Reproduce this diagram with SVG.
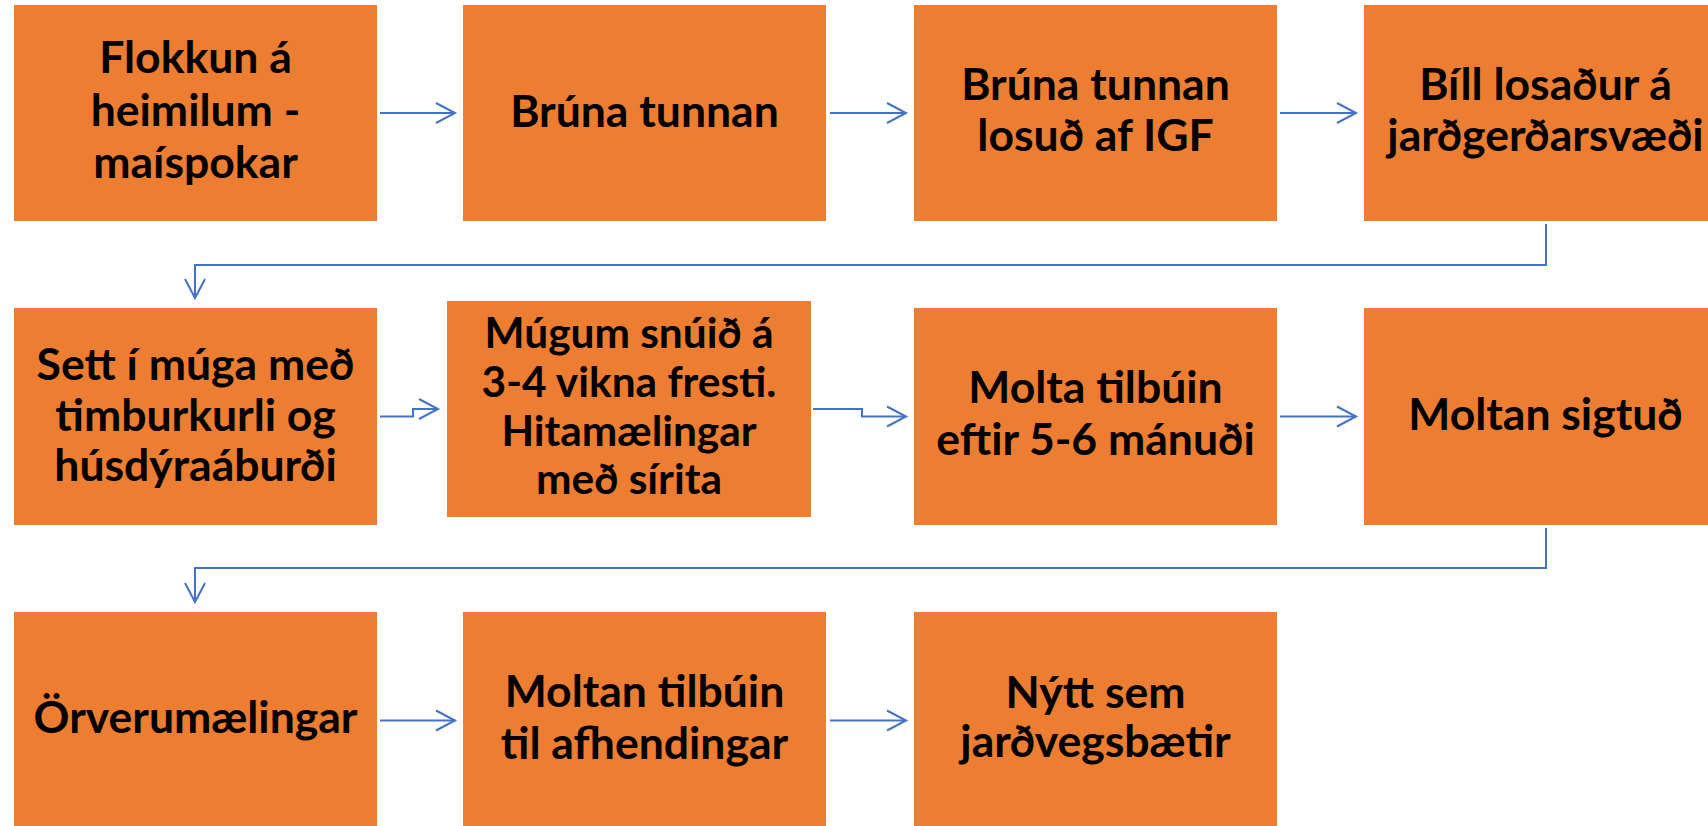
<svg xmlns="http://www.w3.org/2000/svg" width="1708" height="826" viewBox="0 0 1708 826">
<defs>
<style>
.box{fill:#ED7D31;}
.t{font-family:Lato,"Liberation Sans",sans-serif;font-weight:bold;font-size:44.5px;fill:#000;text-anchor:middle;}
.t2{font-family:Lato,"Liberation Sans",sans-serif;font-weight:bold;font-size:42.4px;fill:#000;text-anchor:middle;}
.c{fill:none;stroke:#4472C4;stroke-width:2;marker-end:url(#ah);}
</style>
<marker id="ah" markerUnits="userSpaceOnUse" markerWidth="24" markerHeight="24" refX="20" refY="11" orient="auto" overflow="visible">
<path d="M1 1 L20 11 L1 21" fill="none" stroke="#4472C4" stroke-width="2"/>
</marker>
</defs>
<rect width="1708" height="826" fill="#fff"/>
<g id="connectors">
<path class="c" d="M380 113 H455"/>
<path class="c" d="M830 113 H906"/>
<path class="c" d="M1280 113 H1356"/>
<path class="c" d="M1546 224 V265 H195 V298"/>
<path class="c" d="M380 416.5 H413 V409 H438"/>
<path class="c" d="M813 409 H862 V416.5 H906"/>
<path class="c" d="M1280 416.5 H1356"/>
<path class="c" d="M1546 528 V568 H195 V602"/>
<path class="c" d="M380 720.5 H455"/>
<path class="c" d="M830 720.5 H906"/>
</g>
<g id="n1"><rect class="box" x="14" y="5" width="363" height="216"/>
<text class="t" x="195.5" y="73">Flokkun á</text><text class="t" x="195.5" y="126">heimilum -</text><text class="t" x="195.5" y="178">maíspokar</text></g>
<g id="n2"><rect class="box" x="463" y="5" width="363" height="216"/>
<text class="t" x="644.5" y="127">Brúna tunnan</text></g>
<g id="n3"><rect class="box" x="914" y="5" width="363" height="216"/>
<text class="t" x="1095.5" y="100">Brúna tunnan</text><text class="t" x="1095.5" y="151">losuð af IGF</text></g>
<g id="n4"><rect class="box" x="1364" y="5" width="363" height="216"/>
<text class="t" x="1545.5" y="100">Bíll losaður á</text><text class="t" x="1545.5" y="151">jarðgerðarsvæði</text></g>
<g id="n5"><rect class="box" x="14" y="308" width="363" height="217"/>
<text class="t" x="195.5" y="380">Sett í múga með</text><text class="t" x="195.5" y="431">timburkurli og</text><text class="t" x="195.5" y="481">húsdýraáburði</text></g>
<g id="n6"><rect class="box" x="447" y="301" width="364" height="216"/>
<text class="t2" x="629" y="348">Múgum snúið á</text><text class="t2" x="629" y="397">3-4 vikna fresti.</text><text class="t2" x="629" y="446">Hitamælingar</text><text class="t2" x="629" y="494">með sírita</text></g>
<g id="n7"><rect class="box" x="914" y="308" width="363" height="217"/>
<text class="t" x="1095.5" y="403">Molta tilbúin</text><text class="t" x="1095.5" y="455">eftir 5-6 mánuði</text></g>
<g id="n8"><rect class="box" x="1364" y="308" width="363" height="217"/>
<text class="t" x="1545.5" y="430">Moltan sigtuð</text></g>
<g id="n9"><rect class="box" x="14" y="612" width="363" height="217"/>
<text class="t" x="195.5" y="733">Örverumælingar</text></g>
<g id="n10"><rect class="box" x="463" y="612" width="363" height="217"/>
<text class="t" x="644.5" y="707">Moltan tilbúin</text><text class="t" x="644.5" y="759">til afhendingar</text></g>
<g id="n11"><rect class="box" x="914" y="612" width="363" height="217"/>
<text class="t" x="1095.5" y="708">Nýtt sem</text><text class="t" x="1095.5" y="757">jarðvegsbætir</text></g>
</svg>
